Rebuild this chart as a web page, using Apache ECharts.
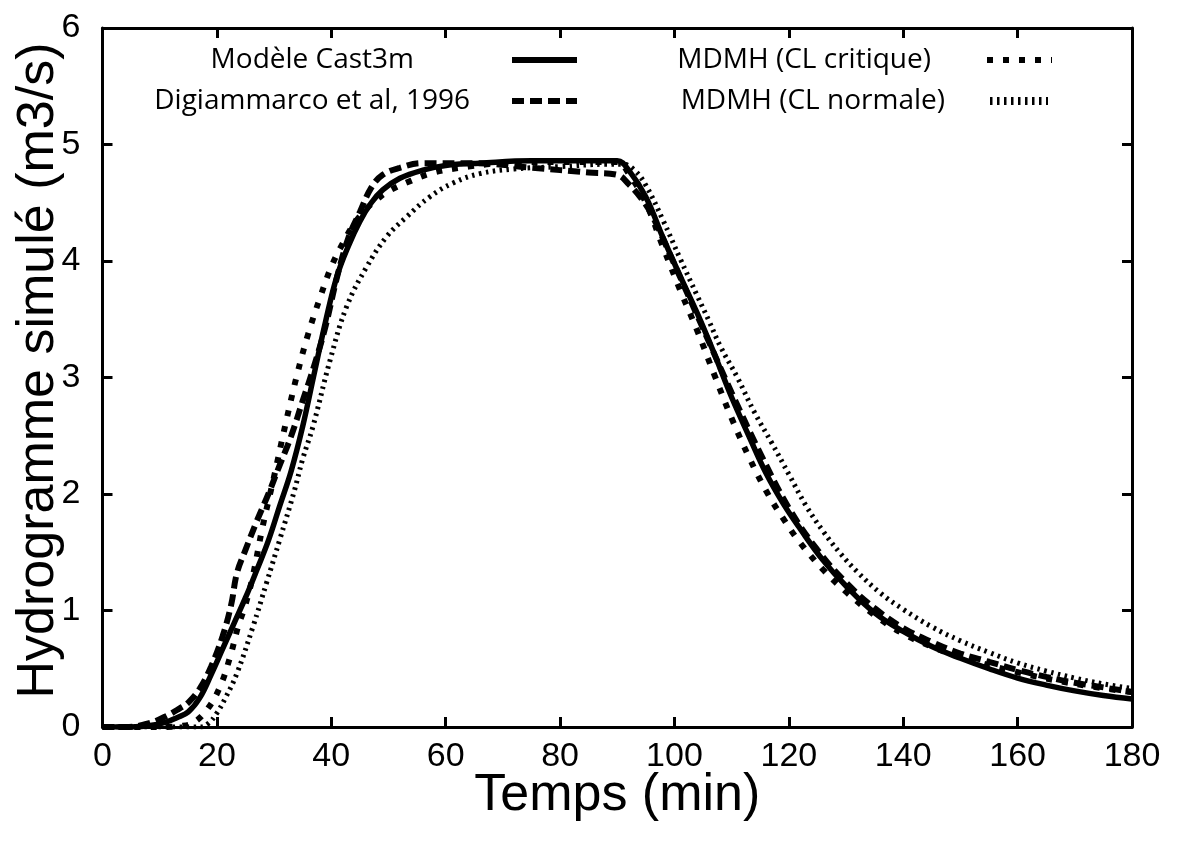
<!DOCTYPE html>
<html>
<head>
<meta charset="utf-8">
<script src="https://cdn.jsdelivr.net/npm/echarts@6/dist/echarts.min.js"></script>
<style>
html,body{margin:0;padding:0;background:#fff;}
#chart{width:1179px;height:850px;}
</style>
</head>
<body>
<div id="chart"></div>
<script>
// ---- Data ----
const xTicks = [0, 20, 40, 60, 80, 100, 120, 140, 160, 180];
const yTicks = [0, 1, 2, 3, 4, 5, 6];

const seriesNames = ['Modèle Cast3m', 'Digiammarco et al, 1996', 'MDMH (CL critique)', 'MDMH (CL normale)'];

const cast3mT = [0,5,8,11,13,15,17,19,21,23,25,27,29,31,33,35,37,39,41,43,45,47,49,52,56,60,66,75,85,90,92,95,98,101,104,107,110,113,116,119,122,126,130,135,140,145,150,155,160,165,170,175,180];
const cast3mQ = [0,0,0.01,0.04,0.08,0.13,0.25,0.45,0.67,0.89,1.11,1.35,1.6,1.9,2.2,2.58,3.03,3.48,3.87,4.13,4.34,4.5,4.61,4.71,4.78,4.82,4.84,4.86,4.86,4.86,4.78,4.55,4.2,3.87,3.55,3.2,2.83,2.5,2.18,1.92,1.7,1.43,1.21,0.98,0.82,0.69,0.59,0.5,0.42,0.36,0.31,0.27,0.24];

const digiT = [0,4,8,11,13.5,15,17,19,21,22.5,23.5,25,27,29,31,33,35,37,39,41,43,45,47,49,52,56,65,75,85,90,92,94,96,100,105,110,115,120,125,130,135,140,145,150,155,160,165,170,175,180];
const digiQ = [0,0,0.03,0.09,0.16,0.21,0.33,0.52,0.78,1.05,1.32,1.52,1.77,2.0,2.25,2.5,2.8,3.1,3.44,3.86,4.2,4.42,4.63,4.74,4.8,4.84,4.84,4.8,4.76,4.74,4.66,4.55,4.4,3.97,3.42,2.87,2.35,1.88,1.52,1.24,1.02,0.85,0.73,0.63,0.56,0.49,0.43,0.38,0.34,0.30];

const critT = [0,10,14,16,18.3,20.5,22.3,23.7,25,26.3,28,30,32,34,36,38,40,42,44,46,48,50,54,58,64,70,80,90,92,95,98,101,104,107,110,113,116,119,122,126,130,135,140,145,150,160,170,180];
const critQ = [0,0,0.01,0.04,0.15,0.34,0.6,0.86,1.05,1.3,1.72,2.15,2.6,3.02,3.38,3.68,3.95,4.15,4.32,4.44,4.53,4.6,4.69,4.76,4.81,4.84,4.85,4.85,4.75,4.5,4.12,3.75,3.4,3.02,2.65,2.32,2.03,1.79,1.58,1.35,1.16,0.96,0.8,0.69,0.6,0.47,0.37,0.3];

const normT = [0,17,18.5,20,21.5,23.5,26.3,28.7,31,33.5,35,36.8,39.8,42.7,46.2,49.7,53.2,57.2,61.3,66,72,80,88,91,93,95,98,101,104,106,108,111,114,117,120,123,126,129,132,136,140,145,150,155,160,165,170,175,180];
const normQ = [0,0,0.03,0.12,0.25,0.46,0.86,1.24,1.61,2.02,2.3,2.58,3.15,3.61,3.95,4.21,4.38,4.55,4.67,4.75,4.79,4.81,4.83,4.83,4.78,4.65,4.35,4.02,3.7,3.49,3.27,3.0,2.7,2.44,2.17,1.9,1.68,1.49,1.33,1.15,1.01,0.86,0.74,0.64,0.55,0.48,0.42,0.37,0.33];

// ---- Build chart ----
const pairs = (t, q) => t.map((v, i) => [v, q[i]]);
const AX = 'Liberation Sans, Arial, sans-serif';
const LG = 'Open Sans, Noto Sans, sans-serif';

const styles = [
  { width: 5.5, type: 'solid' },
  { width: 6, type: [12, 6] },
  { width: 6, type: [6, 10] },
  { width: 5, type: [2.5, 4.5] }
];

const axisCommon = {
  axisLine: { show: true, onZero: false, lineStyle: { color: '#000', width: 3 } },
  axisTick: { show: true, inside: true, length: 10, lineStyle: { color: '#000', width: 3 } },
  splitLine: { show: false }
};

function legendBox(idx, right, top, padRight, width, lw) {
  return {
    data: [seriesNames[idx]],
    right: right, top: top, orient: 'horizontal', align: 'right',
    padding: 0, itemWidth: width, itemHeight: 14, itemGap: 0,
    selectedMode: false,
    itemStyle: { opacity: 0 },
    lineStyle: { color: '#000', width: lw, type: styles[idx].type },
    textStyle: { fontFamily: LG, fontSize: 28, color: '#000', padding: [0, padRight, 0, 0] }
  };
}

function lineSeries(idx, t, q) {
  return {
    name: seriesNames[idx], type: 'line', data: pairs(t, q), smooth: 0.4,
    symbol: 'none', showSymbol: false,
    itemStyle: { color: '#000' },
    lineStyle: { color: '#000', width: styles[idx].width, type: styles[idx].type }
  };
}

const option = {
  animation: false,
  backgroundColor: '#fff',
  grid: { left: 102.5, right: 47, top: 28, bottom: 123, containLabel: false, outerBoundsMode: 'none' },
  legend: [
    legendBox(0, 599, 46, 93, 65, 6),
    legendBox(1, 599, 87, 37, 65, 6),
    legendBox(2, 124, 46, 51, 65, 6),
    legendBox(3, 127, 87, 40, 58, 8)
  ],
  xAxis: [
    Object.assign({
      type: 'value', position: 'bottom', min: xTicks[0], max: xTicks[xTicks.length - 1], interval: 20,
      name: 'Temps (min)', nameLocation: 'middle', nameGap: 43, nameMoveOverlap: false,
      nameTextStyle: { fontFamily: AX, fontSize: 52, color: '#000' },
      axisLabel: { show: true, margin: 13, fontFamily: AX, fontSize: 34, color: '#000' }
    }, axisCommon),
    Object.assign({
      type: 'value', position: 'top', min: xTicks[0], max: xTicks[xTicks.length - 1], interval: 20,
      axisLabel: { show: false }
    }, axisCommon)
  ],
  yAxis: [
    Object.assign({
      type: 'value', position: 'left', min: yTicks[0], max: yTicks[yTicks.length - 1], interval: 1,
      name: 'Hydrogramme simulé (m3/s)', nameLocation: 'middle', nameGap: 38, nameMoveOverlap: false,
      nameTextStyle: { fontFamily: AX, fontSize: 52, color: '#000', padding: [0, 0, 0, 14] },
      axisLabel: { show: true, margin: 22, fontFamily: AX, fontSize: 34, color: '#000', padding: [0, 0, 16, 0] }
    }, axisCommon),
    Object.assign({
      type: 'value', position: 'right', min: yTicks[0], max: yTicks[yTicks.length - 1], interval: 1,
      axisLabel: { show: false }
    }, axisCommon)
  ],
  series: [
    lineSeries(3, normT, normQ),
    lineSeries(2, critT, critQ),
    lineSeries(1, digiT, digiQ),
    lineSeries(0, cast3mT, cast3mQ)
  ]
};

const chart = echarts.init(document.getElementById('chart'), null, { renderer: 'canvas' });
chart.setOption(option);
</script>
</body>
</html>
